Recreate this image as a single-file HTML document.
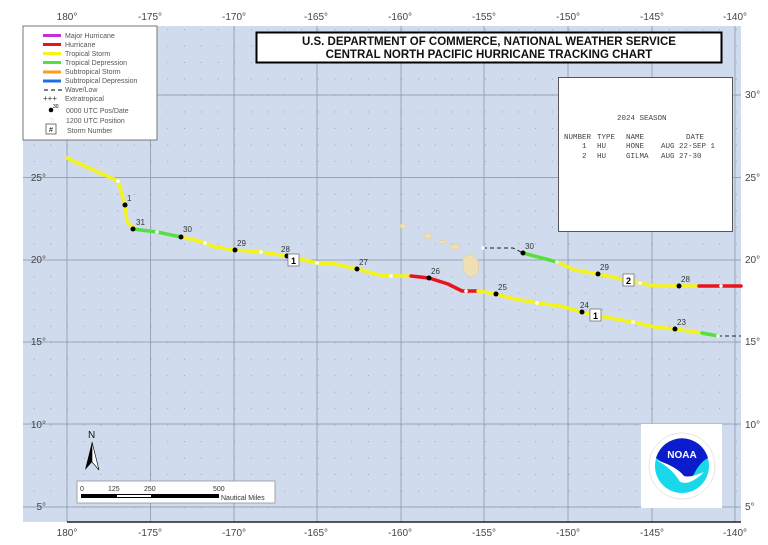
<!DOCTYPE html>
<html><head><meta charset="utf-8"><style>
body{margin:0;background:#fff;}
svg{display:block;font-family:"Liberation Sans",sans-serif;}
.m{font-family:"Liberation Mono",monospace;}
</style></head><body>
<svg width="768" height="545" viewBox="0 0 768 545" xmlns="http://www.w3.org/2000/svg">
<defs>
<pattern id="dots" x="67" y="95" width="16.72" height="16.48" patternUnits="userSpaceOnUse">
<rect x="0" y="0" width="1" height="1" fill="#9aa6b8"/>
</pattern>
</defs>
<rect x="23" y="26" width="718" height="496" fill="#d0dcee"/>
<rect x="23" y="26" width="718" height="496" fill="url(#dots)"/>
<g stroke="#9aa4b8" stroke-width="1">
<line x1="67" y1="26" x2="67" y2="522"/><line x1="150.5" y1="26" x2="150.5" y2="522"/><line x1="234" y1="26" x2="234" y2="522"/><line x1="317" y1="26" x2="317" y2="522"/><line x1="401" y1="26" x2="401" y2="522"/><line x1="484" y1="26" x2="484" y2="522"/><line x1="568" y1="26" x2="568" y2="522"/><line x1="652" y1="26" x2="652" y2="522"/><line x1="735" y1="26" x2="735" y2="522"/>
<line x1="23" y1="95" x2="741" y2="95"/><line x1="23" y1="177.5" x2="741" y2="177.5"/><line x1="23" y1="260" x2="741" y2="260"/><line x1="23" y1="342" x2="741" y2="342"/><line x1="23" y1="424" x2="741" y2="424"/><line x1="23" y1="507" x2="741" y2="507"/>
</g>
<line x1="67" y1="522" x2="741" y2="522" stroke="#222" stroke-width="1.5"/>
<g font-size="10" fill="#444" text-anchor="middle">
<text x="67" y="20">180°</text><text x="150" y="20">-175°</text><text x="234" y="20">-170°</text><text x="316" y="20">-165°</text><text x="400" y="20">-160°</text><text x="484" y="20">-155°</text><text x="568" y="20">-150°</text><text x="652" y="20">-145°</text><text x="735" y="20">-140°</text>
<text x="67" y="536">180°</text><text x="150" y="536">-175°</text><text x="234" y="536">-170°</text><text x="316" y="536">-165°</text><text x="400" y="536">-160°</text><text x="484" y="536">-155°</text><text x="568" y="536">-150°</text><text x="652" y="536">-145°</text><text x="735" y="536">-140°</text>
</g>
<g font-size="10" fill="#444">
<text x="46" y="181" text-anchor="end">25°</text><text x="46" y="263" text-anchor="end">20°</text><text x="46" y="345" text-anchor="end">15°</text><text x="46" y="428" text-anchor="end">10°</text><text x="46" y="510" text-anchor="end">5°</text>
<text x="745" y="98">30°</text><text x="745" y="181">25°</text><text x="745" y="263">20°</text><text x="745" y="345">15°</text><text x="745" y="428">10°</text><text x="745" y="510">5°</text>
</g>
<g fill="#efe0b4" stroke="#d8c89c" stroke-width="0.5">
<ellipse cx="403" cy="226" rx="3" ry="2.5"/>
<ellipse cx="428" cy="236" rx="4" ry="3"/>
<ellipse cx="443" cy="242" rx="4" ry="2"/>
<ellipse cx="455" cy="247" rx="5" ry="3"/>
<path d="M463 257 L472 254 L479 262 L478 273 L470 278 L463 270 Z"/>
</g>
<g fill="none" stroke-width="3.5" stroke-linecap="round" stroke-linejoin="round">
<polyline stroke="#f4f41c" points="67,158 118,181 125,205 127,222 133,227"/>
<polyline stroke="#55e040" points="133,229 157,232 181,237"/>
<polyline stroke="#f4f41c" points="181,237 195,240 205,243 215,247 235,250 261,252 287,256 317,263 335,264 357,269 380,275 391,276 411,276"/>
<polyline stroke="#e8141c" points="411,276 429,278 448,284 462,291 478,291"/>
<polyline stroke="#f4f41c" points="478,291 496,294 515,299 537,303 560,306 582,312 610,318 633,322 655,327 675,329 702,333"/>
<polyline stroke="#55e040" points="702,333 718,336"/>
<polyline stroke="#f4f41c" points="523,253 557,262 575,270 598,274 640,283 655,286 679,286 699,286"/>
<polyline stroke="#55e040" points="523,253 557,262"/>
<polyline stroke="#e8141c" points="699,286 741,286"/>
</g>
<g stroke="#222" stroke-width="1" stroke-dasharray="4,3" fill="none">
<polyline points="718,336 741,336"/>
<polyline points="483,248 513,248 523,253"/>
</g>
<g fill="#fff"><circle cx="118" cy="181" r="1.8"/><circle cx="157" cy="232" r="1.8"/><circle cx="205" cy="243" r="1.8"/><circle cx="261" cy="252" r="1.8"/><circle cx="317" cy="263" r="1.8"/><circle cx="391" cy="276" r="1.8"/><circle cx="466" cy="291" r="1.8"/><circle cx="537" cy="303" r="1.8"/><circle cx="633" cy="322" r="1.8"/><circle cx="718" cy="336" r="1.8"/><circle cx="483" cy="248" r="1.8"/><circle cx="557" cy="262" r="1.8"/><circle cx="640" cy="283" r="1.8"/><circle cx="721" cy="286" r="1.8"/></g>
<g fill="#000"><circle cx="125" cy="205" r="2.5"/><circle cx="133" cy="229" r="2.5"/><circle cx="181" cy="237" r="2.5"/><circle cx="235" cy="250" r="2.5"/><circle cx="287" cy="256" r="2.5"/><circle cx="357" cy="269" r="2.5"/><circle cx="429" cy="278" r="2.5"/><circle cx="496" cy="294" r="2.5"/><circle cx="582" cy="312" r="2.5"/><circle cx="675" cy="329" r="2.5"/><circle cx="523" cy="253" r="2.5"/><circle cx="598" cy="274" r="2.5"/><circle cx="679" cy="286" r="2.5"/></g>
<g font-size="8" fill="#333">
<text x="127" y="201">1</text><text x="136" y="225">31</text><text x="183" y="232">30</text><text x="237" y="246">29</text><text x="281" y="252">28</text><text x="359" y="265">27</text><text x="431" y="274">26</text><text x="498" y="290">25</text><text x="580" y="308">24</text><text x="677" y="325">23</text><text x="525" y="249">30</text><text x="600" y="270">29</text><text x="681" y="282">28</text>
</g>
<g font-size="9" font-weight="bold" text-anchor="middle">
<rect x="288" y="254" width="11" height="12" fill="#fff" stroke="#666" stroke-width="0.7"/><text x="293.5" y="264">1</text>
<rect x="590" y="309" width="11" height="12" fill="#fff" stroke="#666" stroke-width="0.7"/><text x="595.5" y="319">1</text>
<rect x="623" y="274" width="11" height="12" fill="#fff" stroke="#666" stroke-width="0.7"/><text x="628.5" y="284">2</text>
</g>
<rect x="23" y="26" width="134" height="114" fill="#fff" stroke="#777" stroke-width="1"/>
<g stroke-width="3">
<line x1="43" y1="35.5" x2="61" y2="35.5" stroke="#c030e0"/>
<line x1="43" y1="44.5" x2="61" y2="44.5" stroke="#e8141c"/>
<line x1="43" y1="53.5" x2="61" y2="53.5" stroke="#f4f41c"/>
<line x1="43" y1="62.5" x2="61" y2="62.5" stroke="#55e040"/>
<line x1="43" y1="72" x2="61" y2="72" stroke="#ff9a1c"/>
<line x1="43" y1="81" x2="61" y2="81" stroke="#1c6ee8"/>
</g>
<line x1="44" y1="90" x2="62" y2="90" stroke="#000" stroke-dasharray="4,3"/>
<text x="43" y="101" font-size="8" fill="#333">+++</text>
<circle cx="51" cy="110" r="2.3" fill="#000"/><text x="53" y="108" font-size="5">30</text>
<circle cx="52" cy="120" r="1.5" fill="#fff" stroke="#ddd" stroke-width="0.5"/>
<rect x="46" y="124" width="10" height="10" fill="#fff" stroke="#555" stroke-width="0.8"/><text x="51" y="132" font-size="7" text-anchor="middle">#</text>
<g font-size="7" fill="#555">
<text x="65" y="38">Major Hurricane</text><text x="65" y="47">Hurricane</text><text x="65" y="56">Tropical Storm</text><text x="65" y="65">Tropical Depression</text><text x="65" y="74">Subtropical Storm</text><text x="65" y="83">Subtropical Depression</text><text x="65" y="92">Wave/Low</text><text x="65" y="101">Extratropical</text><text x="66" y="113">0000 UTC Pos/Date</text><text x="66" y="123">1200 UTC Position</text><text x="67" y="133">Storm Number</text>
</g>
<rect x="256.5" y="32.5" width="465" height="30" fill="#fff" stroke="#000" stroke-width="2"/>
<g font-size="11.5" font-weight="bold" text-anchor="middle" fill="#111">
<text x="489" y="45">U.S. DEPARTMENT OF COMMERCE, NATIONAL WEATHER SERVICE</text>
<text x="489" y="58">CENTRAL NORTH PACIFIC HURRICANE TRACKING CHART</text>
</g>
<rect x="558.5" y="77.5" width="174" height="154" fill="#fff" stroke="#555" stroke-width="1"/>
<g class="m" font-size="7.5" fill="#444">
<text x="617" y="120">2024 SEASON</text>
<text x="564" y="139">NUMBER</text><text x="597" y="139">TYPE</text><text x="626" y="139">NAME</text><text x="686" y="139">DATE</text>
<text x="582" y="148">1</text><text x="597" y="148">HU</text><text x="626" y="148">HONE</text><text x="661" y="148">AUG 22-SEP 1</text>
<text x="582" y="158">2</text><text x="597" y="158">HU</text><text x="626" y="158">GILMA</text><text x="661" y="158">AUG 27-30</text>
</g>
<text x="88" y="438" font-size="10" fill="#111">N</text>
<path d="M92 442 L85 470 L92 462 Z" fill="#000"/>
<path d="M92 442 L99 470 L92 462 Z" fill="#fff" stroke="#000" stroke-width="0.6"/>
<rect x="77" y="481" width="198" height="22" fill="#fff" stroke="#888" stroke-width="0.7"/>
<g font-size="7" fill="#333"><text x="80" y="491">0</text><text x="108" y="491">125</text><text x="144" y="491">250</text><text x="213" y="491">500</text><text x="221" y="500">Nautical Miles</text></g>
<rect x="81" y="494" width="138" height="4" fill="#000"/>
<rect x="117" y="495" width="34" height="2" fill="#fff"/>
<rect x="641" y="424" width="81" height="84" fill="#fff"/>
<circle cx="682" cy="466" r="33" fill="#fff" stroke="#ccc" stroke-width="0.5"/>
<circle cx="682" cy="466" r="27" fill="#18d8ea"/>
<path d="M656 458 A27 27 0 0 1 708 458 Q700 462 694 474 Q688 484 680 482 Q674 470 656 458 Z" fill="#0a1ccc"/>
<path d="M656 460 Q672 468 680 482 Q690 486 704 472 Q690 478 684 476 Q676 466 656 460 Z" fill="#fff"/>
<text x="682" y="458" font-size="10" font-weight="bold" fill="#fff" text-anchor="middle">NOAA</text>
</svg>
</body></html>
